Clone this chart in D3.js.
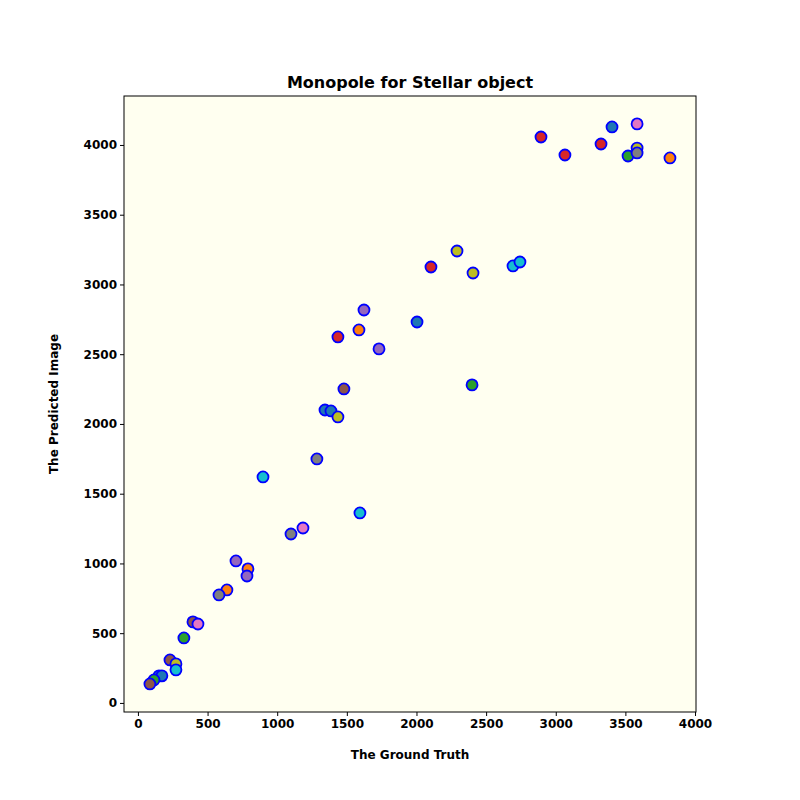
<!DOCTYPE html>
<html>
<head>
<meta charset="utf-8">
<script src="https://cdn.jsdelivr.net/npm/d3@7"></script>
<style>
  body { margin: 0; background: #fff; }
  text { font-family: "DejaVu Sans", sans-serif; }
</style>
</head>
<body>
<svg width="800" height="800"></svg>
<script>
// ground truth, predicted, colour of each point
const truth = [2894, 3066, 3325, 3404, 3584, 3584, 3519, 3584, 3820,
  2104, 2291, 2406, 2693, 2743,
  1623, 1587, 1436, 1731, 2004, 2399,
  1479, 1343, 1386, 1436, 1285, 898, 1594, 1185, 1099,
  704, 790, 783, 639, 582, 395, 431, 330, 230, 273, 273, 151, 172, 115, 86];
const predicted = [4057, 3928, 4007, 4129, 4151, 3978, 3921, 3943, 3907,
  3125, 3240, 3082, 3133, 3161,
  2817, 2674, 2624, 2538, 2731, 2280,
  2251, 2100, 2093, 2050, 1749, 1620, 1362, 1254, 1211,
  1018, 961, 910, 810, 774, 581, 566, 466, 308, 280, 237, 194, 194, 165, 136];
const colors = ['#d62728', '#d62728', '#d62728', '#1f77b4', '#e377c2', '#bcbd22', '#2ca02c', '#7f7f7f', '#ff7f0e',
  '#d62728', '#bcbd22', '#bcbd22', '#17becf', '#17becf',
  '#9467bd', '#ff7f0e', '#d62728', '#9467bd', '#1f77b4', '#2ca02c',
  '#8c564b', '#1f77b4', '#1f77b4', '#bcbd22', '#7f7f7f', '#17becf', '#17becf', '#e377c2', '#7f7f7f',
  '#9467bd', '#ff7f0e', '#9467bd', '#ff7f0e', '#7f7f7f', '#8c564b', '#e377c2', '#2ca02c', '#8c564b', '#bcbd22', '#17becf', '#1f77b4', '#1f77b4', '#2ca02c', '#8c564b'];
const xTicks = [0, 500, 1000, 1500, 2000, 2500, 3000, 3500, 4000];
const yTicks = [0, 500, 1000, 1500, 2000, 2500, 3000, 3500, 4000];

const mLeft = 124, mRight = 696, mTop = 96, mBottom = 712;
const svg = d3.select('svg');

const x = d3.scaleLinear().domain([-100, 4007]).range([mLeft, mRight]);
const y = d3.scaleLinear().domain([-65, 4351]).range([mBottom, mTop]);

svg.append('rect').attr('x', mLeft).attr('y', mTop)
  .attr('width', mRight - mLeft).attr('height', mBottom - mTop)
  .attr('fill', '#fffff0');

const pts = truth.map((t, i) => ({ t, p: predicted[i], c: colors[i] }));
svg.append('g').selectAll('circle').data(pts).join('circle')
  .attr('cx', d => x(d.t)).attr('cy', d => y(d.p)).attr('r', 5.5)
  .attr('fill', d => d.c).attr('stroke', '#0000ff').attr('stroke-width', 1.8);

const xa = svg.append('g').attr('transform', `translate(0,${mBottom})`)
  .call(d3.axisBottom(x).tickValues(xTicks).tickSize(4).tickPadding(3).tickFormat(d3.format('d')));
const ya = svg.append('g').attr('transform', `translate(${mLeft},0)`)
  .call(d3.axisLeft(y).tickValues(yTicks).tickSize(4).tickPadding(3).tickFormat(d3.format('d')));
[xa, ya].forEach(a => {
  a.select('.domain').remove();
  a.selectAll('text').attr('font-size', 12).attr('font-weight', 'bold').attr('fill', '#000')
    .style('font-family', '"DejaVu Sans", sans-serif');
  a.selectAll('line').attr('stroke', '#000');
});

svg.append('rect').attr('x', mLeft).attr('y', mTop)
  .attr('width', mRight - mLeft).attr('height', mBottom - mTop)
  .attr('fill', 'none').attr('stroke', '#000').attr('stroke-width', 1);

svg.append('text').attr('x', (mLeft + mRight) / 2).attr('y', 88)
  .attr('text-anchor', 'middle').attr('font-size', 16).attr('font-weight', 'bold')
  .text('Monopole for Stellar object');
svg.append('text').attr('x', (mLeft + mRight) / 2).attr('y', 759)
  .attr('text-anchor', 'middle').attr('font-size', 12).attr('font-weight', 'bold')
  .text('The Ground Truth');
svg.append('text').attr('transform', `translate(58,${(mTop + mBottom) / 2}) rotate(-90)`)
  .attr('text-anchor', 'middle').attr('font-size', 12).attr('font-weight', 'bold')
  .text('The Predicted Image');
</script>
</body>
</html>
